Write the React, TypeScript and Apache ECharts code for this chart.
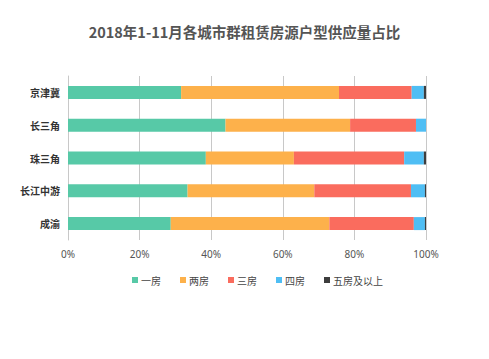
import React, { useEffect, useRef } from "react";
import * as echarts from "echarts";

const categories = ["京津冀", "长三角", "珠三角", "长江中游", "成渝"];
const seriesNames = ["一房", "两房", "三房", "四房", "五房及以上"];
const oneRoom = [31.6, 44.0, 38.5, 33.4, 28.7];
const twoRoom = [44.1, 34.8, 24.6, 35.4, 44.3];
const threeRoom = [20.3, 18.4, 30.8, 27.0, 23.6];
const fourRoom = [3.4, 2.8, 5.5, 3.9, 3.1];
const fivePlus = [0.6, 0.0, 0.6, 0.3, 0.3];
const colors = ["#57c9a7", "#fdb14b", "#fa6c5e", "#4fbef4", "#3d3d3d"];
const xTicks = [0, 20, 40, 60, 80, 100];

export default function App() {
  const ref = useRef<HTMLDivElement>(null);
  useEffect(() => {
    if (!ref.current) return;
    const chart = echarts.init(ref.current, undefined, { renderer: "svg" });
    const values = [oneRoom, twoRoom, threeRoom, fourRoom, fivePlus];
    chart.setOption({
      animation: false,
      color: colors,
      title: {
        text: "2018年1-11月各城市群租赁房源户型供应量占比",
        left: "center",
        top: 19,
        textStyle: { fontSize: 14.5, fontWeight: "bold", color: "#555", fontFamily: "Noto Sans CJK SC" },
      },
      legend: {
        data: seriesNames,
        bottom: 69,
        left: 127,
        itemWidth: 6,
        itemHeight: 6,
        itemGap: 19,
        icon: "rect",
        textStyle: { fontSize: 10, color: "#444", fontFamily: "Noto Sans CJK SC", padding: [0, 0, 0, -2] },
      },
      grid: { left: 68, right: 63, top: 76, bottom: 119 },
      xAxis: {
        type: "value",
        min: xTicks[0],
        max: xTicks[xTicks.length - 1],
        interval: 20,
        axisLabel: { formatter: "{value}%", fontSize: 10, color: "#555", margin: 9, fontFamily: "Noto Sans" },
        axisLine: { show: false },
        axisTick: { show: false },
        splitLine: { lineStyle: { color: "#c8c8c8" } },
      },
      yAxis: {
        type: "category",
        data: categories,
        inverse: true,
        axisLabel: { fontSize: 10, color: "#333", fontWeight: "bold", margin: 8, fontFamily: "Noto Sans CJK SC" },
        axisLine: { show: true, lineStyle: { color: "#c8c8c8" } },
        axisTick: { show: false },
      },
      series: seriesNames.map((name, i) => ({
        name,
        type: "bar",
        stack: "total",
        barWidth: 13,
        data: values[i],
      })),
    });
    return () => chart.dispose();
  }, []);
  return <div ref={ref} style={{ width: 489, height: 359, margin: -8 }} />;
}
